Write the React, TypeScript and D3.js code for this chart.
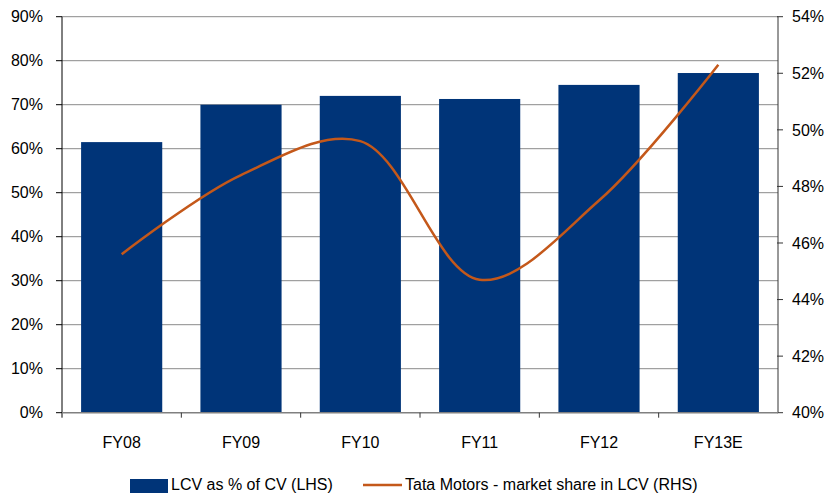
import React from "react";
import * as d3 from "d3";

const categories = ["FY08", "FY09", "FY10", "FY11", "FY12", "FY13E"];
const lcvShare = [61.5, 70.0, 72.0, 71.3, 74.5, 77.2];
const tataShare = [45.6, 48.4, 49.6, 44.7, 47.5, 52.3];
const leftTicks = [0, 10, 20, 30, 40, 50, 60, 70, 80, 90];
const rightTicks = [40, 42, 44, 46, 48, 50, 52, 54];

const W = 838;
const H = 495;
const M = { left: 62, right: 778, top: 16.7, bottom: 412.7 };
const BAR = "#003478";
const LINE = "#C4581A";
const FONT = "'Liberation Sans', Arial, sans-serif";

export default function App() {
  const x = d3.scaleBand<string>().domain(categories).range([M.left, M.right]).paddingInner(0.32).paddingOuter(0.16);
  const yL = d3.scaleLinear().domain([0, 90]).range([M.bottom, M.top]);
  const yR = d3.scaleLinear().domain([40, 54]).range([M.bottom, M.top]);
  const step = x.step();
  const line = d3
    .line<number>()
    .x((_, i) => (x(categories[i]) as number) + x.bandwidth() / 2)
    .y((d) => yR(d))
    .curve(d3.curveCatmullRom.alpha(0.5));

  return (
    <svg width={W} height={H} style={{ position: "absolute", left: 0, top: 0, fontFamily: FONT }}>
      <rect x={0} y={0} width={W} height={H} fill="#fff" />
      {leftTicks.filter((t) => t > 0).map((t) => (
        <line key={t} x1={M.left} x2={M.right} y1={yL(t)} y2={yL(t)} stroke="#8a8a8a" strokeWidth={1} />
      ))}
      {categories.map((c, i) => (
        <rect key={c} x={x(c)} y={yL(lcvShare[i])} width={x.bandwidth()} height={M.bottom - yL(lcvShare[i])} fill={BAR} />
      ))}
      <path d={line(tataShare) || ""} fill="none" stroke={LINE} strokeWidth={2.5} />
      {/* left axis */}
      <line x1={M.left} x2={M.left} y1={M.top} y2={M.bottom + 5} stroke="#000" strokeWidth={1} />
      {leftTicks.map((t) => (
        <g key={t}>
          <line x1={M.left - 6} x2={M.left} y1={yL(t)} y2={yL(t)} stroke="#000" />
          <text x={43} y={yL(t)} dy="0.36em" textAnchor="end" fontSize={16} fill="#000">
            {t}%
          </text>
        </g>
      ))}
      {/* right axis */}
      <line x1={M.right} x2={M.right} y1={M.top} y2={M.bottom} stroke="#333" strokeWidth={1} />
      {rightTicks.map((t) => (
        <g key={t}>
          <line x1={M.right - 1} x2={M.right + 5} y1={yR(t)} y2={yR(t)} stroke="#333" />
          <text x={792} y={yR(t)} dy="0.36em" textAnchor="start" fontSize={16} fill="#000">
            {t}%
          </text>
        </g>
      ))}
      {/* bottom axis */}
      <line x1={M.left} x2={M.right} y1={M.bottom} y2={M.bottom} stroke="#808080" strokeWidth={1.5} />
      {categories.map((c, i) => (
        <g key={c}>
          {i > 0 && (
            <line x1={M.left + step * i} x2={M.left + step * i} y1={M.bottom} y2={M.bottom + 5} stroke="#333" />
          )}
          <text x={(x(c) as number) + x.bandwidth() / 2} y={448} textAnchor="middle" fontSize={16} fill="#000">
            {c}
          </text>
        </g>
      ))}
      {/* legend */}
      <rect x={130} y={479} width={38} height={14} fill={BAR} />
      <text x={171} y={490} fontSize={16} fill="#000">LCV as % of CV (LHS)</text>
      <line x1={363} x2={402} y1={485} y2={485} stroke={LINE} strokeWidth={2.5} />
      <text x={405} y={490} fontSize={16} fill="#000">Tata Motors - market share in LCV (RHS)</text>
    </svg>
  );
}
